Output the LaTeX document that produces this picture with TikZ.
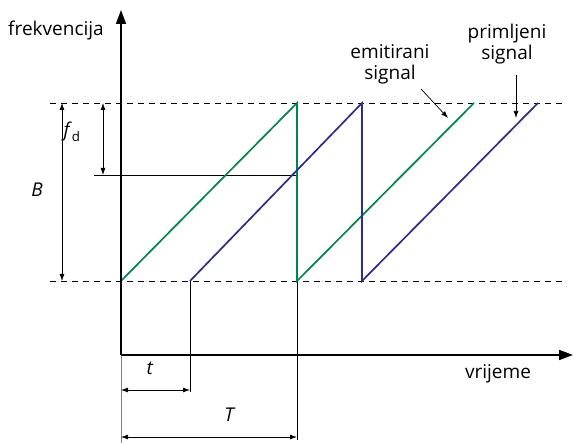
\documentclass[tikz,border=0pt]{standalone}
\usepackage{fontspec}
\setmainfont{Open Sans}
\usetikzlibrary{arrows.meta}
\definecolor{gsig}{RGB}{0,133,80}
\definecolor{bsig}{RGB}{45,45,140}
\tikzset{
  axisln/.style={line width=1.6pt,-{Triangle[length=14pt,width=10pt]}},
  dashln/.style={dash pattern=on 6pt off 5pt,line width=0.8pt},
  thinln/.style={line width=0.7pt},
  dimln/.style={line width=0.8pt,{Latex[length=7pt,width=5pt]}-{Latex[length=7pt,width=5pt]}},
  lbl/.style={font=\fontsize{19}{21}\selectfont,inner sep=0pt},
  sig/.style={line width=1.7pt},
}
\begin{document}
\begin{tikzpicture}[x=1pt,y=-1pt]
\useasboundingbox (0,0) rectangle (574,443);
% coordinates
\coordinate (O) at (121,355);
\coordinate (Ytop) at (121,10);
\coordinate (Xend) at (573,355);
\coordinate (DTl) at (50,103);
\coordinate (DTr) at (562,103);
\coordinate (DBl) at (50,281);
\coordinate (DBr) at (562,281);
\coordinate (g1) at (121,281);
\coordinate (g2) at (297,103);
\coordinate (g3) at (297,281);
\coordinate (g4) at (474,103);
\coordinate (b1) at (190,281);
\coordinate (b2) at (362,103);
\coordinate (b3) at (362,281);
\coordinate (b4) at (538,103);
\coordinate (hL) at (94,175);
\coordinate (hR) at (297,175);
\coordinate (fdT) at (103,103);
\coordinate (fdB) at (103,175);
\coordinate (BT) at (62,103);
\coordinate (BB) at (62,281);
\coordinate (tV) at (190,392);
\coordinate (TV) at (297,440);
\coordinate (g0) at (121,443);
\coordinate (tA) at (121,390);
\coordinate (tB) at (190,390);
\coordinate (TA) at (121,437);
\coordinate (TB) at (297,437);
% dashed lines
\draw[dashln] (DTl) -- (DTr);
\draw[dashln] (DBl) -- (DBr);
% thin lines
\draw[thinln] (hL) -- (hR);
\draw[thinln] (b1) -- (tV);
\draw[thinln] (g2) -- (TV);
\draw[thinln,gray] (O) -- (g0);
% dims
\draw[dimln] (fdT) -- (fdB);
\draw[dimln] (BT) -- (BB);
\draw[dimln] (tA) -- (tB);
\draw[dimln] (TA) -- (TB);
% signals
\draw[sig,gsig] (g1) -- (g2) -- (g3) -- (g4);
\draw[sig,bsig] (b1) -- (b2) -- (b3) -- (b4);
% axes
\draw[axisln] (O) -- (Ytop);
\draw[axisln] (O) -- (Xend);
% labels
\node[lbl] (ylab) at (56,31) {frekvencija};
\node[lbl] (xlab) at (498,374) {vrijeme};
\node[lbl,align=center] (em) at (390,64) {emitirani\\signal};
\node[lbl,align=center] (pr) at (507,44) {primljeni\\signal};
\node[lbl] (fd) at (72,132) {\textit{f}\textsubscript{d}};
\node[lbl] (Bl) at (37,190) {\textit{B}};
\node[lbl] (tl) at (150,368) {\textit{t}};
\node[lbl] (Tl) at (230,415) {\textit{T}};
\coordinate (emS) at (421,89);
\coordinate (emA) at (448,118);
\coordinate (prS) at (516,75);
\coordinate (prA) at (516,118);
\draw[thinln,-{Latex[length=7pt,width=5pt]}] (emS) -- (emA);
\draw[thinln,-{Latex[length=7pt,width=5pt]}] (prS) -- (prA);
\end{tikzpicture}
\end{document}
